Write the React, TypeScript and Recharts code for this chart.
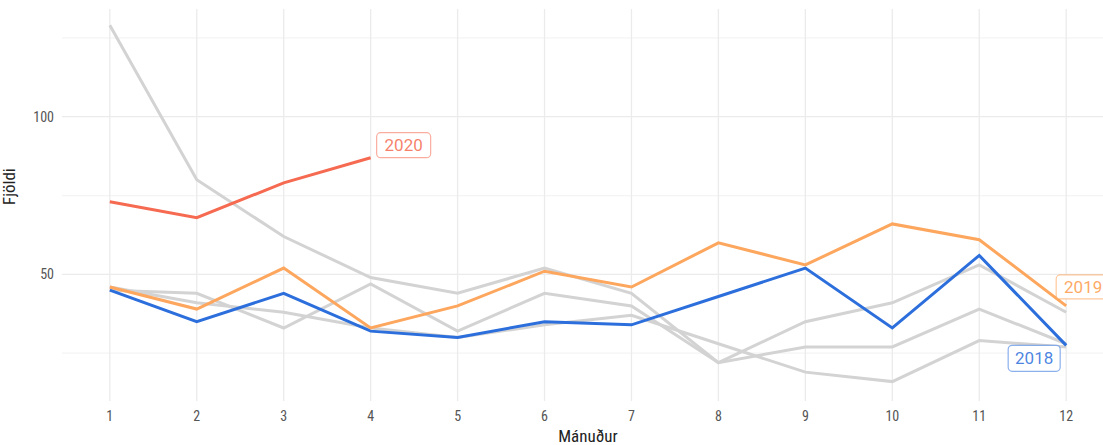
import { Line, LineChart, ReferenceLine, XAxis, YAxis } from "recharts";

const months = [1, 2, 3, 4, 5, 6, 7, 8, 9, 10, 11, 12];

// older years, drawn in grey
const greyA = [129, 80, 62, 49, 44, 52, 44, 22, 35, 41, 53, 38];
const greyB = [45, 44, 33, 47, 32, 44, 40, 22, 27, 27, 39, 28];
const greyC = [46, 41, 38, 33, 30, 34, 37, 28, 19, 16, 29, 27];

const y2018 = [45, 35, 44, 32, 30, 35, 34, 43, 52, 33, 56, 27.5];
const y2019 = [46, 39, 52, 33, 40, 51, 46, 60, 53, 66, 61, 40];
const y2020 = [73, 68, 79, 87];

const yTicks = [50, 100];
const yMinor = [25, 75, 125];

const data = months.map((m, i) => ({
  month: m,
  a: greyA[i],
  b: greyB[i],
  c: greyC[i],
  s2018: y2018[i],
  s2019: y2019[i],
  s2020: i < y2020.length ? y2020[i] : null,
}));

const axisFont = "'Liberation Sans Narrow', 'Roboto Condensed', Roboto, sans-serif";

type BoxOpts = { text: string; color: string; last: number; dx: number; dy: number; w: number; h: number };

function endLabel({ text, color, last, dx, dy, w, h }: BoxOpts) {
  return (props: any) => {
    if (props.index !== last || props.x == null) return null;
    const left = props.x + dx;
    const top = props.y + dy;
    return (
      <g>
        <rect x={left} y={top} width={w} height={h} rx={4} fill="#fff" stroke={color} strokeOpacity={0.55} strokeWidth={1.2} />
        <text
          x={left + w / 2}
          y={top + h / 2}
          textAnchor="middle"
          dominantBaseline="central"
          fill={color}
          fillOpacity={0.85}
          fontSize={17}
          fontFamily="Roboto, sans-serif"
        >
          {text}
        </text>
      </g>
    );
  };
}

export default function App() {
  return (
    <div style={{ position: "absolute", left: 0, top: 0, width: 1103, height: 445, overflow: "hidden", background: "#fff" }}>
      <LineChart width={1114} height={445} data={data} margin={{ top: 9, right: 0, bottom: 0, left: 0 }}>
        {yMinor.map((v) => (
          <ReferenceLine key={"n" + v} y={v} stroke="#f4f4f4" strokeWidth={1.3} />
        ))}
        {yTicks.map((v) => (
          <ReferenceLine key={"y" + v} y={v} stroke="#ebebeb" strokeWidth={1.3} />
        ))}
        {months.map((m) => (
          <ReferenceLine key={"x" + m} x={m} stroke="#ebebeb" strokeWidth={1.3} />
        ))}
        <XAxis
          dataKey="month"
          type="number"
          domain={[0.45, 12.55]}
          ticks={months}
          height={44}
          axisLine={false}
          tickLine={false}
          tick={{ fill: "#555", fontSize: 14, fontFamily: axisFont }}
          tickMargin={4}
          label={{ value: "Mánuður", position: "insideBottom", offset: 3, fill: "#222", fontSize: 17, fontFamily: axisFont }}
        />
        <YAxis
          type="number"
          domain={[9.85, 134.15]}
          allowDataOverflow
          ticks={yTicks}
          width={62}
          axisLine={false}
          tickLine={false}
          tick={{ fill: "#555", fontSize: 14, fontFamily: axisFont }}
          tickMargin={2}
          label={{ value: "Fjöldi", angle: -90, position: "insideLeft", offset: 9, fill: "#222", fontSize: 17, fontFamily: axisFont }}
        />
        <Line dataKey="a" stroke="#d3d3d3" strokeWidth={3} dot={false} isAnimationActive={false} />
        <Line dataKey="b" stroke="#d3d3d3" strokeWidth={3} dot={false} isAnimationActive={false} />
        <Line dataKey="c" stroke="#d3d3d3" strokeWidth={3} dot={false} isAnimationActive={false} />
        <Line
          dataKey="s2018"
          stroke="#2c6fdc"
          strokeWidth={3}
          dot={false}
          isAnimationActive={false}
          label={endLabel({ text: "2018", color: "#2c6fdc", last: 11, dx: -58, dy: 0, w: 52, h: 26 })}
        />
        <Line
          dataKey="s2019"
          stroke="#fda65e"
          strokeWidth={3}
          dot={false}
          isAnimationActive={false}
          label={endLabel({ text: "2019", color: "#fd9a48", last: 11, dx: -10, dy: -31, w: 54, h: 24 })}
        />
        <Line
          dataKey="s2020"
          stroke="#f56a50"
          strokeWidth={3}
          dot={false}
          connectNulls={false}
          isAnimationActive={false}
          label={endLabel({ text: "2020", color: "#f56a50", last: 3, dx: 6, dy: -25, w: 54, h: 25 })}
        />
      </LineChart>
    </div>
  );
}
